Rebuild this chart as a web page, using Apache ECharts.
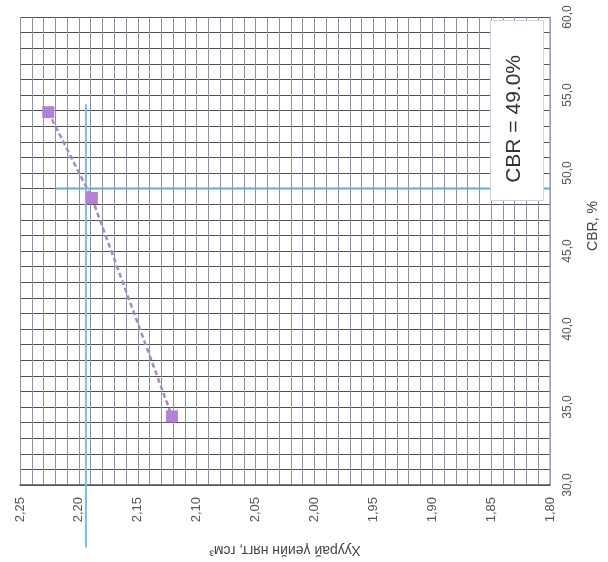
<!DOCTYPE html>
<html>
<head>
<meta charset="utf-8">
<script src="https://cdn.jsdelivr.net/npm/echarts@6/dist/echarts.min.js"></script>
<style>
  html, body { margin: 0; padding: 0; background: #fff; }
  #chart { width: 608px; height: 562px; }
</style>
</head>
<body>
<div id="chart"></div>
<script>
// хуурай нягт (г/см3) ба CBR (%)
const dryDensity = [2.226, 2.189, 2.121]
const cbrValues = [53.9, 48.4, 34.4]
// тодорхойлсон утга
const cbrResult = 49.0
const designDensity = 2.194
// blue guide lines ends
const guideH = [2.220, 1.796]
const guideV = [54.4, 26.0]

const comma = (v, d) => v.toFixed(d).replace('.', ',')

const chart = echarts.init(document.getElementById('chart'))

const guideStyle = { color: '#62a8de', width: 2 }

const option = {
  backgroundColor: '#ffffff',
  animation: false,
  grid: {
    left: 20,
    right: 56,
    top: 17,
    bottom: 77
  },
  xAxis: {
    type: 'value',
    min: 1.80,
    max: 2.25,
    interval: 0.05,
    inverse: true,
    position: 'bottom',
    name: 'Хуурай үеийн нягт, гсм³',
    nameLocation: 'middle',
    nameGap: 58,
    nameRotate: 180,
    nameTextStyle: {
      color: '#444',
      fontSize: 14,
      fontFamily: 'Liberation Sans'
    },
    axisLine: { show: true, lineStyle: { color: '#555', width: 1.5 } },
    axisTick: { show: false },
    axisLabel: {
      rotate: 90,
      margin: 12,
      color: '#555',
      fontSize: 13,
      fontFamily: 'Liberation Sans',
      formatter: v => comma(v, 2)
    },
    splitLine: { show: true, lineStyle: { color: '#8e929e', width: 1 } },
    minorTick: { show: false, splitNumber: 5 },
    minorSplitLine: { show: true, lineStyle: { color: '#8e929e', width: 1 } }
  },
  yAxis: {
    type: 'value',
    min: 30,
    max: 60,
    interval: 5,
    position: 'right',
    name: 'CBR, %',
    nameLocation: 'middle',
    nameGap: 36,
    nameRotate: 90,
    nameTextStyle: {
      color: '#444',
      fontSize: 14,
      fontFamily: 'Liberation Sans',
      padding: [0, 0, 0, 50]
    },
    axisLine: { show: true, lineStyle: { color: '#9aa8c0', width: 1.5 } },
    axisTick: { show: false },
    axisLabel: {
      rotate: 90,
      margin: 12,
      color: '#555',
      fontSize: 12,
      fontFamily: 'Liberation Sans',
      formatter: v => comma(v, 1)
    },
    splitLine: { show: true, lineStyle: { color: '#505055', width: 1.2 } },
    minorTick: { show: false, splitNumber: 5 },
    minorSplitLine: { show: true, lineStyle: { color: '#505055', width: 1.2 } }
  },
  series: [{
    // хэвтээ цэнхэр шугам
    type: 'line',
    clip: false,
    symbol: 'none',
    silent: true,
    data: guideH.map(d => [d, cbrResult]),
    lineStyle: guideStyle,
    z: 2
  }, {
    // босоо цэнхэр шугам
    type: 'line',
    clip: false,
    symbol: 'none',
    silent: true,
    data: guideV.map(c => [designDensity, c]),
    lineStyle: { color: '#7dbbe8', width: 2 },
    z: 2
  }, {
    type: 'line',
    clip: false,
    data: dryDensity.map((d, i) => [d, cbrValues[i]]),
    symbol: 'rect',
    symbolSize: 12,
    itemStyle: { color: '#b77fd2' },
    lineStyle: { color: '#a88ac4', width: 2.5, type: [5, 3] },
    z: 3
  }],
  graphic: [{
    type: 'rect',
    left: 490,
    top: 20,
    z: 100,
    shape: { width: 53, height: 180 },
    style: { fill: '#ffffff', stroke: '#c9d3e0', lineWidth: 1 }
  }, {
    type: 'text',
    left: 504,
    top: 55,
    z: 101,
    rotation: Math.PI / 2,
    style: {
      text: 'CBR = ' + cbrResult.toFixed(1) + '%',
      fill: '#333',
      fontSize: 21,
      fontFamily: 'Liberation Sans'
    }
  }]
}

chart.setOption(option)
</script>
</body>
</html>
